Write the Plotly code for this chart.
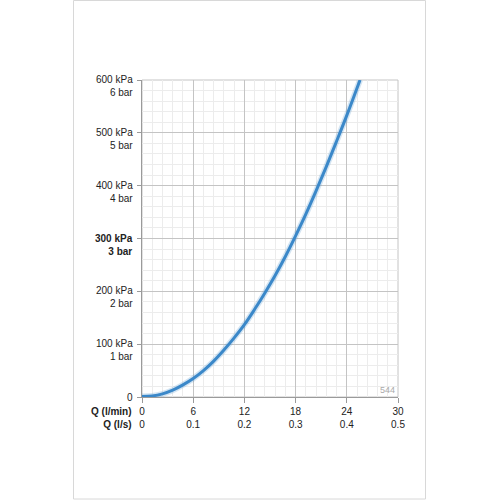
import plotly.graph_objects as go

# Flow (l/min) vs pressure loss (kPa)
flow_lpm = [0, 1.2, 2.4, 3.6, 4.8, 6, 7.2, 8.4, 9.6, 10.8, 12, 13.2, 14.4, 15.6,
            16.8, 18, 19.2, 20.4, 21.6, 22.8, 24, 25.55]
pressure_kpa = [1, 2, 6, 13, 23, 35, 50, 68, 89, 112, 137, 166, 197, 230,
                266, 305, 346, 390, 436, 484, 533, 600]

x_ticks = [0, 6, 12, 18, 24, 30]
x_tick_ls = ["0", "0.1", "0.2", "0.3", "0.4", "0.5"]
y_ticks = [0, 100, 200, 300, 400, 500, 600]
y_tick_text = ["0", "100 kPa<br>1 bar", "200 kPa<br>2 bar", "<b>300 kPa<br>3 bar</b>",
               "400 kPa<br>4 bar", "500 kPa<br>5 bar", "600 kPa<br>6 bar"]
x_axis_labels = "<b>Q (l/min)<br>Q (l/s)</b>"
code_label = "544"

FONT = "Liberation Sans, Arial, sans-serif"

fig = go.Figure()
# soft halo under the line
fig.add_trace(go.Scatter(x=flow_lpm, y=pressure_kpa, mode="lines",
                         line=dict(color="rgba(59,136,201,0.22)", width=6, shape="spline"),
                         hoverinfo="skip", showlegend=False))
fig.add_trace(go.Scatter(x=flow_lpm, y=pressure_kpa, mode="lines",
                         line=dict(color="#3b88c9", width=3, shape="spline"),
                         showlegend=False))

L, R, T, B = 142, 102, 80, 103
pw = 500 - L - R
ph = 500 - T - B

fig.update_layout(
    width=500, height=500,
    margin=dict(l=L, r=R, t=T, b=B),
    paper_bgcolor="white", plot_bgcolor="white",
    font=dict(family=FONT, size=10, color="#222"),
)

fig.update_xaxes(
    range=[0, 30], tickvals=x_ticks,
    ticktext=[f"{a}<br>{b}" for a, b in zip(x_ticks, x_tick_ls)],
    showgrid=True, gridcolor="#c4c4c4", gridwidth=1,
    minor=dict(dtick=1.2, showgrid=True, gridcolor="#ececec", gridwidth=1),
    showline=True, linecolor="#9a9a9a", linewidth=1,
    ticks="outside", ticklen=5, tickcolor="#9a9a9a",
    tickfont=dict(size=10, color="#222"), zeroline=False, fixedrange=True,
)
fig.update_yaxes(
    range=[0, 600], tickvals=y_ticks, ticktext=["" for _ in y_ticks],
    showgrid=True, gridcolor="#c4c4c4", gridwidth=1,
    minor=dict(dtick=20, showgrid=True, gridcolor="#ececec", gridwidth=1),
    showline=True, linecolor="#9a9a9a", linewidth=1,
    ticks="outside", ticklen=4, tickcolor="#9a9a9a",
    zeroline=False, fixedrange=True,
)

anns = []
for v, t in zip(y_ticks, y_tick_text):
    if v == 0:
        anns.append(dict(x=0, xref="paper", y=v, yref="y", text=t, showarrow=False,
                         xanchor="right", yanchor="middle", xshift=-7,
                         align="right", font=dict(size=10, color="#222")))
    else:
        anns.append(dict(x=0, xref="paper", y=v, yref="y", text=t, showarrow=False,
                         xanchor="right", yanchor="top", xshift=-7, yshift=8,
                         align="right", font=dict(size=10, color="#222")))
anns.append(dict(x=0, xref="paper", y=0, yref="paper", text=x_axis_labels,
                 showarrow=False, xanchor="right", yanchor="top", xshift=-8, yshift=-7,
                 align="right", font=dict(size=10, color="#222")))
anns.append(dict(x=1, xref="paper", y=0, yref="paper", text=code_label,
                 showarrow=False, xanchor="right", yanchor="bottom", xshift=-1, yshift=0,
                 font=dict(size=9, color="#aaaaaa")))
fig.update_layout(annotations=anns)

# page frame and plot frame
fig.add_shape(type="rect", xref="paper", yref="paper",
              x0=(73.5 - L) / pw, x1=(425.5 - L) / pw,
              y0=(500 - B - 499) / ph, y1=(500 - B - 0.5) / ph,
              line=dict(color="#d8d8d8", width=1), layer="below")
fig.add_shape(type="rect", xref="paper", yref="paper", x0=0, x1=1, y0=0, y1=1,
              line=dict(color="#c4c4c4", width=1), layer="below")

fig.write_html("out.html", config={"displayModeBar": False},
               post_script="document.body.style.margin='0';")
